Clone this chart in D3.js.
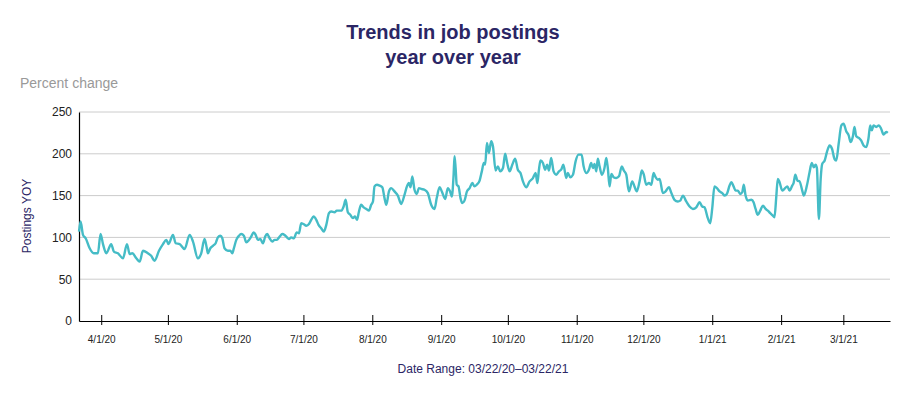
<!DOCTYPE html>
<html>
<head>
<meta charset="utf-8">
<script src="https://cdn.jsdelivr.net/npm/d3@7"></script>
<style>
  body { margin: 0; background: #fff; }
  svg text { font-family: "Liberation Sans", Arial, sans-serif; }
</style>
</head>
<body>
<div id="chart"></div>
<script>
// days since 03/22/20
const dayIndex = [
  0, 0.7, 1.8, 3, 4.8, 6.6, 8.5, 9.7, 10.8, 12.3, 14.5, 15.7, 17.5, 19.8, 21.6, 22.8, 24, 25.8, 27.3, 28.8,
  31, 32.5, 34, 36, 37.8, 39.3, 40.3, 42.3, 43.5, 45.3, 47.5, 49.8, 51.3, 53.5, 55, 56.5, 57.6, 58, 59.1, 60.3,
  61.5, 62.5, 63.6, 64.5, 65.5, 67, 68.1, 69, 69.7, 70.8, 72, 73, 74.2, 75.3, 76.5, 77.5, 78.6, 79.5, 80.5, 81.6,
  82.8, 83.8, 84.7, 85.8, 87, 88, 89, 90.3, 91.5, 92.5, 93.6, 94.5, 95.5, 96.7, 98, 99, 100, 101, 102.3, 103.5,
  104.5, 105.6, 106.8, 107.8, 109, 110.2, 111.3, 112.5, 113.5, 115, 116, 117.3, 118, 119.1, 120, 121, 122.1, 123.3, 124.2, 125.1,
  126, 127, 128.1, 129.3, 130.5, 131.5, 132.3, 133, 134.1, 135.3, 136.5, 137.5, 138.3, 139.5, 140.5, 142, 143.5, 145, 146.5, 147.6,
  148.5, 149.2, 150, 151, 152, 153, 154, 155.5, 157, 158.5, 160, 161, 162.3, 163.3, 164.8, 166, 167, 167.8, 168.6, 169,
  169.5, 170, 170.8, 171.7, 172.5, 173.5, 174.6, 175.8, 177, 178, 179, 180.3, 181.3, 182.2, 182.8, 183.6, 184.5, 185.5, 186.3, 187.5,
  188.5, 189.6, 190.8, 191.8, 192.7, 193.8, 195, 196.3, 197.5, 198.7, 199.8, 201.3, 202.8, 204.3, 205.5, 206.3, 207, 207.7, 208.8, 209.8,
  210.7, 211.5, 212.5, 213.6, 214.8, 216, 217, 218, 219.3, 220, 221.1, 222.3, 223.5, 224.8, 226.2, 227.1, 228.3, 229.5, 230.5, 231.3,
  232, 232.8, 233.5, 234.3, 235.3, 236.5, 237.3, 238, 238.8, 239.6, 240.6, 241.8, 243, 244.3, 245.2, 246.3, 247.5, 249, 250, 251,
  252.3, 253.3, 254.2, 255.3, 256.5, 257.6, 258.6, 259.5, 260.5, 261.3, 262.8, 264, 265.5, 266.6, 268, 269.5, 270.6, 271.8, 273.3, 274.8,
  276.3, 277.8, 279.3, 280.5, 281.5, 283, 284.1, 285, 286, 287.1, 288.3, 289.5, 290.6, 291.6, 292.8, 293.6, 294.6, 295.5, 296.5, 297.6,
  298.5, 299.2, 300, 301, 302.6, 303.6, 304.5, 305.5, 306.6, 307.8, 309, 310, 311.1, 312.3, 313, 313.8, 314.5, 315.3, 316.5, 317.5,
  318.8, 319.8, 321, 321.6, 322.4, 323.3, 324.3, 325.5, 326.2, 327.6, 328.8, 329.8, 330.7, 331.5, 332.1, 333, 333.8, 334.5, 335.6, 336.6,
  337.8, 338.9, 340, 340.8, 341.9, 343.1, 344.1, 345.3, 346.4, 347.3, 348.3, 349, 349.8, 351, 352, 353.1, 354.3, 355.3, 356.1, 356.8,
  357.6, 358.8, 360, 361, 362.1, 363.3, 364
];

// postings YOY, percent
const postings = [
  107, 119, 103, 99, 87, 81, 81, 104, 92, 81, 92, 83, 81, 75, 92, 80, 81, 75, 71, 84,
  81, 78, 72, 84, 92, 97, 92, 103, 93, 92, 86, 103, 95, 75, 81, 98, 86, 81, 87, 90,
  93, 100, 102, 99, 87, 84, 84, 81, 87, 97, 102, 104, 102, 94, 97, 101, 106, 103, 97, 98,
  93, 101, 104, 99, 95, 97, 97, 101, 104, 103, 100, 98, 100, 99, 106, 105, 117, 116, 114, 116,
  121, 125, 121, 115, 111, 107, 115, 129, 131, 130, 132, 132, 132, 137, 145, 130, 127, 123, 125, 121,
  131, 139, 136, 134, 132, 139, 143, 161, 163, 162, 160, 147, 139, 155, 159, 155, 150, 140, 151, 161,
  165, 160, 173, 157, 152, 159, 158, 157, 153, 139, 134, 147, 160, 155, 146, 159, 155, 149, 175, 197,
  183, 163, 161, 147, 141, 144, 155, 159, 165, 161, 163, 168, 179, 189, 187, 213, 201, 215, 209, 180,
  185, 179, 183, 200, 189, 179, 187, 194, 181, 177, 167, 160, 167, 171, 177, 165, 181, 192, 189, 181,
  187, 180, 195, 179, 175, 179, 181, 187, 171, 177, 172, 175, 191, 199, 199, 185, 177, 181, 189, 183,
  188, 179, 194, 185, 175, 183, 195, 183, 161, 176, 172, 171, 173, 185, 180, 175, 155, 167, 161, 155,
  167, 180, 175, 163, 165, 163, 177, 172, 169, 170, 153, 155, 160, 153, 145, 143, 144, 150, 143, 137,
  134, 136, 142, 137, 136, 123, 117, 135, 161, 159, 155, 153, 150, 152, 162, 166, 161, 156, 156, 152,
  154, 163, 150, 144, 145, 142, 134, 127, 132, 138, 134, 132, 129, 126, 124, 148, 170, 166, 156, 158,
  161, 156, 162, 165, 175, 168, 167, 156, 150, 162, 178, 189, 184, 187, 183, 122, 170, 188, 192, 202,
  210, 206, 194, 192, 212, 234, 236, 227, 222, 214, 221, 232, 221, 219, 216, 210, 208, 218, 234, 228,
  234, 232, 234, 230, 223, 226, 225
];

const yTicks = [0, 50, 100, 150, 200, 250];
const startDate = new Date(2020, 2, 22);
const endDate = new Date(2021, 2, 22);

class PostingsChart {
    constructor() {
        this.width = 906;
        this.height = 396;
        this.margin = {top: 112, right: 16, bottom: 75, left: 79};
        this.navy = '#2b2665';
        this.draw();
    }

    draw() {
        const svg = d3.select('#chart').append('svg')
            .attr('width', this.width)
            .attr('height', this.height);

        const innerW = this.width - this.margin.left - this.margin.right;
        const innerH = this.height - this.margin.top - this.margin.bottom;

        const data = dayIndex.map((d, i) => ({
            date: new Date(startDate.getTime() + d * 864e5),
            value: postings[i]
        }));

        const x = d3.scaleTime().domain([startDate, endDate]).range([0, innerW]);
        const y = d3.scaleLinear().domain([0, 250]).range([innerH, 0]);

        const g = svg.append('g')
            .attr('transform', `translate(${this.margin.left},${this.margin.top})`);

        // gridlines
        g.append('g')
            .selectAll('line')
            .data(yTicks.filter(t => t > 0))
            .enter().append('line')
            .attr('x1', 0)
            .attr('x2', innerW)
            .attr('y1', d => y(d))
            .attr('y2', d => y(d))
            .attr('stroke', '#cccccc')
            .attr('stroke-width', 1);

        // y axis
        const yAxis = g.append('g')
            .call(d3.axisLeft(y).tickValues(yTicks).tickSize(0).tickPadding(7));
        yAxis.select('.domain').attr('stroke', '#000').attr('stroke-width', 1.2);
        yAxis.selectAll('text').attr('font-size', 12).attr('fill', '#222');

        // x axis
        const months = d3.timeMonth.range(new Date(2020, 3, 1), endDate);
        const xAxis = g.append('g')
            .attr('transform', `translate(0,${innerH})`)
            .call(d3.axisBottom(x).tickValues(months).tickFormat(d3.timeFormat('%-m/%-d/%y'))
                .tickSizeInner(6).tickSizeOuter(0).tickPadding(9));
        xAxis.select('.domain').attr('stroke', '#000').attr('stroke-width', 1.2);
        xAxis.selectAll('.tick line').attr('y1', -6).attr('y2', 4).attr('stroke', '#000');
        xAxis.selectAll('text').attr('font-size', 10).attr('fill', '#222');

        // the series
        const line = d3.line()
            .x(d => x(d.date))
            .y(d => y(d.value))
            .curve(d3.curveMonotoneX);

        g.append('path')
            .datum(data)
            .attr('fill', 'none')
            .attr('stroke', '#45bcc6')
            .attr('stroke-width', 2.4)
            .attr('stroke-linejoin', 'round')
            .attr('d', line);

        // titles and labels
        svg.append('text')
            .attr('x', 453).attr('y', 39)
            .attr('text-anchor', 'middle')
            .attr('font-size', 20).attr('font-weight', 'bold')
            .attr('fill', this.navy)
            .text('Trends in job postings');
        svg.append('text')
            .attr('x', 453).attr('y', 64)
            .attr('text-anchor', 'middle')
            .attr('font-size', 20).attr('font-weight', 'bold')
            .attr('fill', this.navy)
            .text('year over year');

        svg.append('text')
            .attr('x', 20).attr('y', 88)
            .attr('font-size', 14)
            .attr('fill', '#999999')
            .text('Percent change');

        svg.append('text')
            .attr('transform', 'translate(31,216) rotate(-90)')
            .attr('text-anchor', 'middle')
            .attr('font-size', 12)
            .attr('fill', this.navy)
            .text('Postings YOY');

        svg.append('text')
            .attr('x', 483).attr('y', 373)
            .attr('text-anchor', 'middle')
            .attr('font-size', 12)
            .attr('fill', this.navy)
            .text('Date Range: 03/22/20\u201303/22/21');
    }
}

const postingsChart = new PostingsChart();
</script>
</body>
</html>
